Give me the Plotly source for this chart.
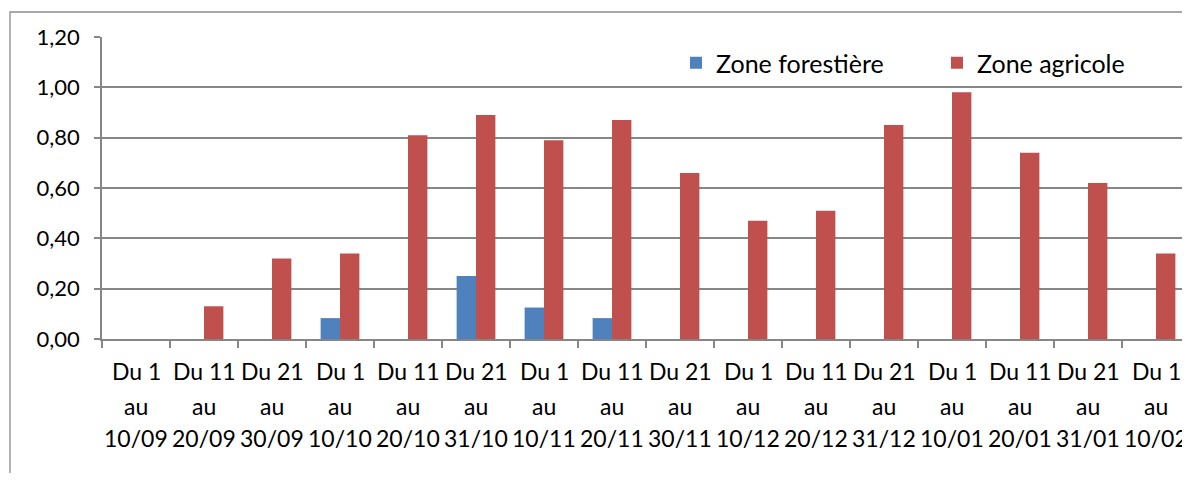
import plotly.graph_objects as go

periods_start = ["Du 1", "Du 11", "Du 21", "Du 1", "Du 11", "Du 21", "Du 1", "Du 11",
                 "Du 21", "Du 1", "Du 11", "Du 21", "Du 1", "Du 11", "Du 21", "Du 1"]
periods_end = ["10/09", "20/09", "30/09", "10/10", "20/10", "31/10", "10/11", "20/11",
               "30/11", "10/12", "20/12", "31/12", "10/01", "20/01", "31/01", "10/02"]
categories = [f"{s} au {e}" for s, e in zip(periods_start, periods_end)]

zone_forestiere = [0, 0, 0, 0.083, 0, 0.25, 0.125, 0.083, 0, 0, 0, 0, 0, 0, 0, 0]
zone_agricole = [0, 0.13, 0.32, 0.34, 0.81, 0.89, 0.79, 0.87, 0.66, 0.47, 0.51, 0.85,
                 0.98, 0.74, 0.62, 0.34]

y_ticks = [0, 0.2, 0.4, 0.6, 0.8, 1.0, 1.2]
y_ticklabels = ["0,00", "0,20", "0,40", "0,60", "0,80", "1,00", "1,20"]

FONT = "Lato"
GRID = "#868686"

# page body has an 8px margin: figure sized so that it fits the 1190x481 window
W, H = 1182, 465
L, T = 94, 29
PW = W - L
PH = 302
B = H - T - PH

fig = go.Figure()
fig.add_trace(go.Bar(x=categories, y=zone_forestiere, name="Zone forestière",
                     marker=dict(color="#4F81BD", line=dict(width=0)), legend="legend"))
fig.add_trace(go.Bar(x=categories, y=zone_agricole, name="Zone agricole",
                     marker=dict(color="#C0504D", line=dict(width=0)), legend="legend2"))

annotations = []
for cat, s, e in zip(categories, periods_start, periods_end):
    for txt, shift in ((s, -32), ("au", -67), (e, -99)):
        annotations.append(dict(x=cat, y=0, xref="x", yref="y", text=txt,
                                showarrow=False, yanchor="middle", yshift=shift,
                                font=dict(family=FONT, size=23, color="#000000")))

leg_common = dict(orientation="h", yanchor="middle", xanchor="left",
                  font=dict(family=FONT, size=25, color="#000000"),
                  bgcolor="rgba(0,0,0,0)", borderwidth=0)

def px_to_paper_x(px):
    return (px - 8 - L) / PW

def px_to_paper_y(py):
    return (T + PH - (py - 8)) / PH

fig.update_layout(
    width=W, height=H,
    margin=dict(l=L, r=0, t=T, b=B, autoexpand=False),
    paper_bgcolor="white", plot_bgcolor="white",
    barmode="group", bargap=0.43, bargroupgap=0,
    font=dict(family=FONT, size=22, color="#000000"),
    showlegend=True,
    legend=dict(x=px_to_paper_x(676), y=px_to_paper_y(63), **leg_common),
    legend2=dict(x=px_to_paper_x(937), y=px_to_paper_y(63), **leg_common),
    xaxis=dict(type="category", showticklabels=False, tickson="boundaries",
               ticks="outside", ticklen=7, tickcolor=GRID, tickwidth=1.6,
               showline=True, linecolor=GRID, linewidth=1.6, showgrid=False,
               zeroline=False),
    yaxis=dict(range=[0, 1.2], tickvals=y_ticks, ticktext=y_ticklabels,
               ticks="outside", ticklen=6, tickcolor=GRID, tickwidth=1.6,
               ticklabelstandoff=10,
               showline=True, linecolor=GRID, linewidth=1.6,
               showgrid=True, gridcolor=GRID, gridwidth=1.6, zeroline=False,
               tickfont=dict(family=FONT, size=22, color="#000000")),
    annotations=annotations,
    shapes=[dict(type="rect", xref="paper", yref="paper",
                 x0=px_to_paper_x(10), x1=1.05,
                 y0=-0.6, y1=px_to_paper_y(12),
                 line=dict(color="#8C8C8C", width=1.3), fillcolor="rgba(0,0,0,0)",
                 layer="below")],
)

fig.write_html("out.html")
